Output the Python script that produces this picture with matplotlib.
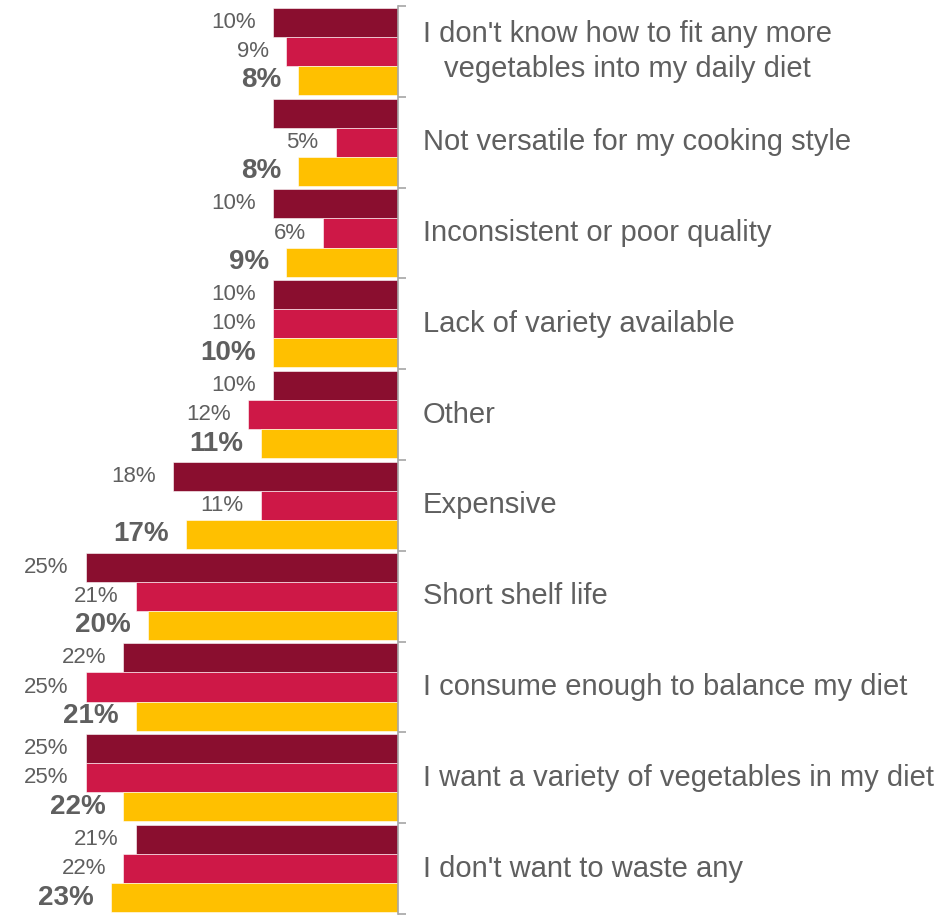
import numpy as np
import matplotlib
matplotlib.use("Agg")
from matplotlib import pyplot as plt

plt.rcParams["font.family"] = ["Liberation Sans", "DejaVu Sans"]

categories = [
    "I don't know how to fit any more\nvegetables into my daily diet",
    "Not versatile for my cooking style",
    "Inconsistent or poor quality",
    "Lack of variety available",
    "Other",
    "Expensive",
    "Short shelf life",
    "I consume enough to balance my diet",
    "I want a variety of vegetables in my diet",
    "I don't want to waste any",
]
wave1 = [10, 10, 10, 10, 10, 18, 25, 22, 25, 21]
wave2 = [9, 5, 6, 10, 12, 11, 21, 25, 25, 22]
wave3 = [8, 8, 9, 10, 11, 17, 20, 21, 22, 23]
# the first-wave bar for "Not versatile" carries no value label
show1 = [True, False, True, True, True, True, True, True, True, True]

colors = ["#8A0E2F", "#CE1847", "#FFC000"]
grey = "#5F5F5F"

fig = plt.figure(figsize=(9.47, 9.16), dpi=100)
ax = fig.add_axes([0, 1 - 914 / 916, 398 / 947, 908 / 916])

y = np.arange(len(categories))
h = 0.32
series = [(wave1, -h, colors[0], "normal", 16),
          (wave2, 0, colors[1], "normal", 16),
          (wave3, h, colors[2], "bold", 20)]

for k, (vals, off, col, weight, fs) in enumerate(series):
    ax.barh(y + off, vals, height=h, color=col, edgecolor="white", linewidth=0.4)
    for i, v in enumerate(vals):
        if k == 0 and not show1[i]:
            continue
        ax.text(v + 1.35, y[i] + off, f"{v}%", ha="right", va="center",
                color=grey, fontsize=fs, fontweight=weight)

ax.set_xlim(398 / 12.5, 0)
ax.set_ylim(len(categories) - 0.5, -0.5)

for s in ["left", "top", "bottom"]:
    ax.spines[s].set_visible(False)
ax.spines["right"].set_color("#A6A6A6")
ax.spines["right"].set_linewidth(1.2)
ax.xaxis.set_visible(False)
ax.yaxis.tick_right()
ax.set_yticks(np.arange(len(categories) + 1) - 0.5)
ax.set_yticklabels([])
ax.tick_params(axis="y", length=6, width=1.2, color="#A6A6A6", direction="out")

for i, c in enumerate(categories):
    ax.annotate(c, xy=(1, y[i]), xycoords=("axes fraction", "data"),
                xytext=(25, 0), textcoords="offset pixels",
                ha="left", va="center", multialignment="center",
                color=grey, fontsize=21, linespacing=1.3,
                annotation_clip=False)

fig.savefig("out.png", dpi=100)
